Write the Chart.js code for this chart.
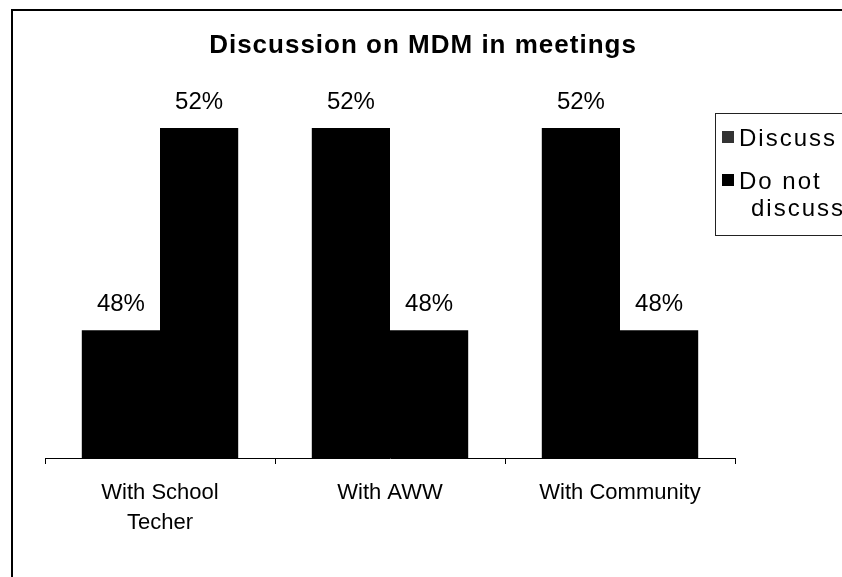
<!DOCTYPE html>
<html>
<head>
<meta charset="utf-8">
<script src="https://cdn.jsdelivr.net/npm/chart.js@4/dist/chart.umd.min.js"></script>
<style>
  html, body { margin: 0; padding: 0; background: #fff; }
  #wrap { width: 842px; height: 577px; }
</style>
</head>
<body>
<div id="wrap"><canvas id="mdmChart" width="842" height="577"></canvas></div>
<script>
// data
const chartTitle = 'Discussion on MDM in meetings';
const categories = [['With School', 'Techer'], ['With AWW'], ['With Community']];
const seriesNames = ['Discuss', 'Do not discuss'];
const discussValues = [48, 52, 52];
const notDiscussValues = [52, 48, 48];

const FONT = 'Arial, "Liberation Sans", sans-serif';

// frame, title, value labels and legend box
const decorations = {
  id: 'decorations',
  afterDatasetsDraw(chart) {
    const ctx = chart.ctx;
    ctx.save();

    // outer frame (right and bottom fall off the picture)
    ctx.strokeStyle = '#000';
    ctx.lineWidth = 2;
    ctx.beginPath();
    ctx.moveTo(12, 600);
    ctx.lineTo(12, 10);
    ctx.lineTo(860, 10);
    ctx.stroke();

    // title
    ctx.fillStyle = '#000';
    ctx.font = 'bold 26px ' + FONT;
    ctx.letterSpacing = '1px';
    ctx.textAlign = 'center';
    ctx.textBaseline = 'middle';
    ctx.fillText(chartTitle, 423, 46);
    ctx.letterSpacing = '0px';

    // value labels
    ctx.font = '24px ' + FONT;
    ctx.textBaseline = 'alphabetic';
    chart.data.datasets.forEach((ds, i) => {
      chart.getDatasetMeta(i).data.forEach((bar, j) => {
        ctx.fillText(ds.data[j] + '%', bar.x, bar.y - 19);
      });
    });

    // legend
    ctx.lineWidth = 1;
    ctx.strokeStyle = '#222';
    ctx.strokeRect(715.5, 113.5, 200, 122);
    ctx.textAlign = 'left';
    ctx.font = '24px ' + FONT;
    ctx.letterSpacing = '2px';
    ctx.fillStyle = '#333';
    ctx.fillRect(722, 131, 12, 12);
    ctx.fillStyle = '#000';
    ctx.fillText(seriesNames[0], 739, 146);
    ctx.fillRect(722, 174, 12, 12);
    const words = seriesNames[1].split(' ');
    ctx.fillText(words[0] + ' ' + words[1], 739, 189);
    ctx.fillText(words[2], 751, 216);

    ctx.restore();
  }
};

const mdmCanvas = document.getElementById('mdmChart');
const mdmChart = new Chart(mdmCanvas, {
  type: 'bar',
  data: {
    labels: categories,
    datasets: [{
      label: seriesNames[0],
      data: discussValues,
      backgroundColor: '#000',
      borderWidth: 0
    }, {
      label: seriesNames[1],
      data: notDiscussValues,
      backgroundColor: '#000',
      borderWidth: 0
    }]
  },
  options: {
    responsive: false,
    animation: false,
    devicePixelRatio: 1,
    categoryPercentage: 0.68,
    barPercentage: 1,
    layout: {
      padding: {left: 45, right: 107, top: 77.5, bottom: 0}
    },
    plugins: {
      legend: {display: false},
      title: {display: false},
      tooltip: {enabled: false}
    },
    scales: {
      x: {
        grid: {
          display: true,
          drawOnChartArea: false,
          offset: true,
          tickLength: 6,
          color: '#000'
        },
        border: {display: true, color: '#000', width: 1},
        ticks: {
          color: '#000',
          padding: 14,
          font: {family: FONT, size: 22, lineHeight: 1.35}
        },
        afterFit(scale) {
          scale.height = 119;
        }
      },
      y: {
        display: false,
        min: 45.47,
        max: 53
      }
    }
  },
  plugins: [decorations]
});
</script>
</body>
</html>
